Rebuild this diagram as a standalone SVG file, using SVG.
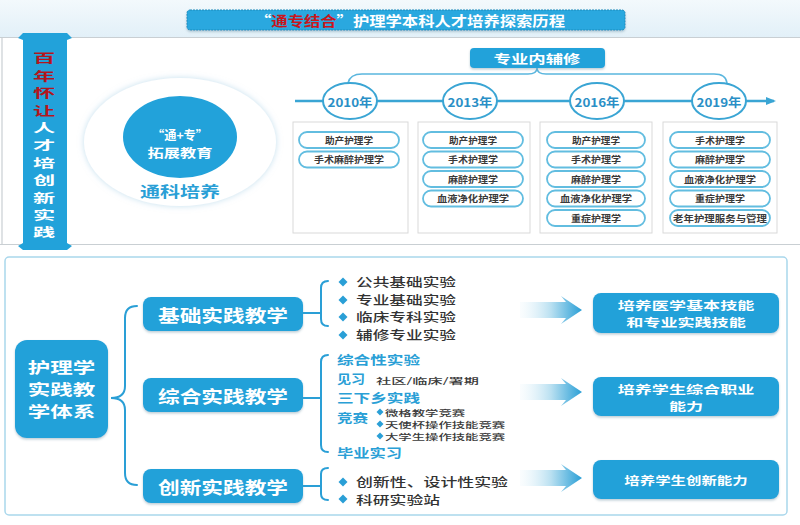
<svg xmlns="http://www.w3.org/2000/svg" width="800" height="525" viewBox="0 0 800 525">
<defs>
<linearGradient id="topband" x1="0" y1="0" x2="0" y2="1">
<stop offset="0" stop-color="#f3f9fc"/>
<stop offset="1" stop-color="#e2f0f8"/>
</linearGradient>
<linearGradient id="arrowgrad" gradientUnits="userSpaceOnUse" x1="520" y1="0" x2="582" y2="0">
<stop offset="0" stop-color="#e8f5fb" stop-opacity="0.2"/>
<stop offset="0.5" stop-color="#b9e0f1"/>
<stop offset="1" stop-color="#2a9fd6"/>
</linearGradient>
<filter id="sh" x="-10%" y="-10%" width="120%" height="140%">
<feDropShadow dx="0" dy="1.5" stdDeviation="1.2" flood-color="#6a8fa3" flood-opacity="0.45"/>
</filter>
<filter id="soft" x="-20%" y="-20%" width="140%" height="140%">
<feDropShadow dx="0" dy="0" stdDeviation="3" flood-color="#9ccbe3" flood-opacity="0.6"/>
</filter>
<marker id="tl" markerWidth="10" markerHeight="8" refX="8" refY="4" orient="auto" markerUnits="userSpaceOnUse">
<path d="M0,0 L10,4 L0,8 Z" fill="#3aa5d4"/>
</marker>
</defs>
<style>
text{font-family:"Noto Sans CJK SC","Noto Sans",sans-serif;dominant-baseline:central}
.w{fill:#ffffff;font-weight:bold}
.pill rect{fill:#ffffff;stroke:#62bde0;stroke-width:1.8}
.pill text{fill:#3a3a3a;font-size:9px;font-weight:bold;text-anchor:middle}
.course{fill:#ffffff;stroke:#d9d9d9;stroke-width:1}
.yr ellipse{fill:#ffffff;stroke:#3aa5d4;stroke-width:2}
.yr text{fill:#2a8fc6;font-size:12px;font-weight:bold;text-anchor:middle}
.br{fill:none;stroke:#2a9fd6;stroke-width:2;stroke-linecap:round}
.it{fill:#333333;font-size:12.4px;font-weight:500}
.sm{fill:#3a3a3a;font-size:8.2px;font-weight:500}
.bt{fill:#2a9fd6;font-size:12.4px;font-weight:bold}
.dm{fill:#2a9fd6}
.node rect{fill:#21a1d9}
.res text{fill:#ffffff;font-size:11.7px;font-weight:bold;text-anchor:middle}
.vt{font-size:12px;font-weight:bold;text-anchor:middle}
</style>

<!-- backgrounds -->
<rect x="0" y="0" width="800" height="525" fill="#ffffff"/>
<rect x="0" y="0" width="800" height="37" fill="url(#topband)"/>
<line x1="0" y1="37.5" x2="800" y2="37.5" stroke="#c9cfd3" stroke-width="1.2"/>
<line x1="2" y1="37" x2="2" y2="245" stroke="#c9cfd3" stroke-width="1.2"/>
<line x1="0" y1="244.5" x2="800" y2="244.5" stroke="#c9cfd3" stroke-width="1.2"/>

<!-- title -->
<g id="title">
<rect x="187" y="10" width="438" height="20" rx="3" fill="#2aa8df" stroke="#1b8cbd" stroke-width="1" stroke-dasharray="2 1" filter="url(#sh)"/>
<text x="410" y="20" font-size="13.5" font-weight="bold" fill="#ffffff" text-anchor="middle" textLength="310" lengthAdjust="spacingAndGlyphs">“<tspan fill="#c8161d">通专结合</tspan>”护理学本科人才培养探索历程</text>
</g>

<!-- vertical bar -->
<g id="vbar">
<path d="M23,33 L67,33 L72,38 L67,40 L67,243 L72,246 L67,250 L23,250 L18,246 L23,243 L23,40 L18,38 Z" fill="#22a2da"/>
<text class="vt" transform="translate(44,0) scale(1.85,1)"><tspan x="0" y="58" fill="#b3151c">百</tspan><tspan x="0" y="75.4" fill="#b3151c">年</tspan><tspan x="0" y="92.8" fill="#b3151c">怀</tspan><tspan x="0" y="110.2" fill="#b3151c">让</tspan><tspan x="0" y="127.6" fill="#ffffff">人</tspan><tspan x="0" y="145" fill="#ffffff">才</tspan><tspan x="0" y="162.4" fill="#ffffff">培</tspan><tspan x="0" y="179.8" fill="#ffffff">创</tspan><tspan x="0" y="197.2" fill="#ffffff">新</tspan><tspan x="0" y="214.6" fill="#ffffff">实</tspan><tspan x="0" y="232" fill="#ffffff">践</tspan></text>
</g>

<!-- circle -->
<g id="tongke">
<ellipse cx="180" cy="142" rx="96" ry="64" fill="#ffffff" filter="url(#soft)"/>
<ellipse cx="180" cy="137" rx="57" ry="41" fill="#22a2da"/>
<text x="180" y="134" font-size="12" class="w" text-anchor="middle" textLength="56" lengthAdjust="spacingAndGlyphs">“通+专”</text>
<text x="180" y="152" font-size="12" class="w" text-anchor="middle" textLength="65" lengthAdjust="spacingAndGlyphs">拓展教育</text>
<text x="180" y="190" font-size="15" font-weight="bold" fill="#2a9fd6" text-anchor="middle" textLength="80" lengthAdjust="spacingAndGlyphs">通科培养</text>
</g>

<!-- connectors -->
<g id="connectors">
<line x1="295" y1="101" x2="774" y2="101" stroke="#3aa5d4" stroke-width="2.5" marker-end="url(#tl)"/>
<path d="M348,83 Q350,74 362,74 L528,74 Q537,74 537,68 Q537,74 546,74 L714,74 Q726,74 727,83" fill="none" stroke="#5ab6de" stroke-width="1.5"/>
<path class="br" d="M137,306 Q125,306 125,318 L125,386 Q125,398 111,398 Q125,398 125,410 L125,473 Q125,485 137,485"/>
<path class="br" d="M303,313 L321,313 M328,281 Q321,281 321,288 L321,319 Q321,326 328,326"/>
<path class="br" d="M303,398 L321,398 M328,355 Q321,355 321,362 L321,445 Q321,452 328,452"/>
<path class="br" d="M303,486 L321,486 M328,468 Q321,468 321,474 L321,494 Q321,500 328,500"/>
<path d="M520,302 L566,302 L561,296 L582,310 L561,324 L566,318 L520,318 Z" fill="url(#arrowgrad)"/>
<path d="M520,384 L566,384 L561,378 L582,392 L561,406 L566,400 L520,400 Z" fill="url(#arrowgrad)"/>
<path d="M520,470 L566,470 L561,464 L582,478 L561,492 L566,486 L520,486 Z" fill="url(#arrowgrad)"/>
</g>

<!-- 专业内辅修 -->
<g id="fuxiu">
<rect x="470" y="48" width="135" height="20" rx="4" fill="#22a2da" filter="url(#sh)"/>
<text x="537" y="58" font-size="12" class="w" text-anchor="middle" textLength="87" lengthAdjust="spacingAndGlyphs">专业内辅修</text>
</g>

<!-- years -->
<g id="y2010" class="yr"><ellipse cx="350" cy="101" rx="27" ry="18"/><text x="350" y="101" textLength="45" lengthAdjust="spacingAndGlyphs">2010年</text></g>
<g id="y2013" class="yr"><ellipse cx="470" cy="101" rx="27" ry="18"/><text x="470" y="101" textLength="45" lengthAdjust="spacingAndGlyphs">2013年</text></g>
<g id="y2016" class="yr"><ellipse cx="597" cy="101" rx="27" ry="18"/><text x="597" y="101" textLength="45" lengthAdjust="spacingAndGlyphs">2016年</text></g>
<g id="y2019" class="yr"><ellipse cx="719" cy="101" rx="27" ry="18"/><text x="719" y="101" textLength="45" lengthAdjust="spacingAndGlyphs">2019年</text></g>

<!-- course boxes -->
<g id="c2010">
<rect class="course" x="293" y="122" width="115" height="111"/>
<g class="pill"><rect x="299" y="132" width="100" height="16" rx="8"/><text x="349" y="140" textLength="48" lengthAdjust="spacingAndGlyphs">助产护理学</text></g>
<g class="pill"><rect x="299" y="151.5" width="100" height="16" rx="8"/><text x="349" y="159.5" textLength="70" lengthAdjust="spacingAndGlyphs">手术麻醉护理学</text></g>
</g>
<g id="c2013">
<rect class="course" x="418" y="122" width="112" height="111"/>
<g class="pill"><rect x="423" y="132" width="100" height="16" rx="8"/><text x="473" y="140" textLength="48" lengthAdjust="spacingAndGlyphs">助产护理学</text></g>
<g class="pill"><rect x="423" y="151.5" width="100" height="16" rx="8"/><text x="473" y="159.5" textLength="50" lengthAdjust="spacingAndGlyphs">手术护理学</text></g>
<g class="pill"><rect x="423" y="171" width="100" height="16" rx="8"/><text x="473" y="179" textLength="50" lengthAdjust="spacingAndGlyphs">麻醉护理学</text></g>
<g class="pill"><rect x="423" y="190.5" width="100" height="16" rx="8"/><text x="473" y="198.5" textLength="72" lengthAdjust="spacingAndGlyphs">血液净化护理学</text></g>
</g>
<g id="c2016">
<rect class="course" x="540" y="122" width="112" height="111"/>
<g class="pill"><rect x="547" y="132" width="98" height="16" rx="8"/><text x="596" y="140" textLength="48" lengthAdjust="spacingAndGlyphs">助产护理学</text></g>
<g class="pill"><rect x="547" y="151.5" width="98" height="16" rx="8"/><text x="596" y="159.5" textLength="50" lengthAdjust="spacingAndGlyphs">手术护理学</text></g>
<g class="pill"><rect x="547" y="171" width="98" height="16" rx="8"/><text x="596" y="179" textLength="50" lengthAdjust="spacingAndGlyphs">麻醉护理学</text></g>
<g class="pill"><rect x="547" y="190.5" width="98" height="16" rx="8"/><text x="596" y="198.5" textLength="72" lengthAdjust="spacingAndGlyphs">血液净化护理学</text></g>
<g class="pill"><rect x="547" y="210" width="98" height="16" rx="8"/><text x="596" y="218" textLength="50" lengthAdjust="spacingAndGlyphs">重症护理学</text></g>
</g>
<g id="c2019">
<rect class="course" x="663" y="122" width="114" height="111"/>
<g class="pill"><rect x="670" y="132" width="100" height="16" rx="8"/><text x="720" y="140" textLength="50" lengthAdjust="spacingAndGlyphs">手术护理学</text></g>
<g class="pill"><rect x="670" y="151.5" width="100" height="16" rx="8"/><text x="720" y="159.5" textLength="50" lengthAdjust="spacingAndGlyphs">麻醉护理学</text></g>
<g class="pill"><rect x="670" y="171" width="100" height="16" rx="8"/><text x="720" y="179" textLength="72" lengthAdjust="spacingAndGlyphs">血液净化护理学</text></g>
<g class="pill"><rect x="670" y="190.5" width="100" height="16" rx="8"/><text x="720" y="198.5" textLength="50" lengthAdjust="spacingAndGlyphs">重症护理学</text></g>
<g class="pill"><rect x="670" y="210" width="100" height="16" rx="8"/><text x="720" y="218" textLength="94" lengthAdjust="spacingAndGlyphs">老年护理服务与管理</text></g>
</g>

<!-- bottom frame -->
<rect x="5" y="257" width="782" height="258" rx="4" fill="none" stroke="#a9d7ec" stroke-width="1.5"/>

<!-- main node -->
<g id="main" class="node">
<rect x="15" y="340" width="93" height="98" rx="12" filter="url(#sh)"/>
<text font-size="15" class="w" text-anchor="middle" transform="translate(61.5,0) scale(1.5,1)"><tspan x="0" y="367">护理学</tspan><tspan x="0" y="389">实践教</tspan><tspan x="0" y="411">学体系</tspan></text>
</g>

<g id="jichu" class="node">
<rect x="143" y="297" width="160" height="34" rx="8" filter="url(#sh)"/>
<text x="223" y="314" font-size="17" class="w" text-anchor="middle" textLength="130" lengthAdjust="spacingAndGlyphs">基础实践教学</text>
</g>
<g id="zonghe" class="node">
<rect x="143" y="378" width="160" height="34" rx="8" filter="url(#sh)"/>
<text x="223" y="395" font-size="17" class="w" text-anchor="middle" textLength="130" lengthAdjust="spacingAndGlyphs">综合实践教学</text>
</g>
<g id="chuangxin" class="node">
<rect x="143" y="469" width="160" height="34" rx="8" filter="url(#sh)"/>
<text x="223" y="486" font-size="17" class="w" text-anchor="middle" textLength="130" lengthAdjust="spacingAndGlyphs">创新实践教学</text>
</g>

<!-- list 1 -->
<g id="list1">
<path class="dm" d="M343,277.5 L347.5,282 L343,286.5 L338.5,282 Z"/>
<text class="it" x="356" y="282" textLength="100" lengthAdjust="spacingAndGlyphs">公共基础实验</text>
<path class="dm" d="M343,295.5 L347.5,300 L343,304.5 L338.5,300 Z"/>
<text class="it" x="356" y="300" textLength="100" lengthAdjust="spacingAndGlyphs">专业基础实验</text>
<path class="dm" d="M343,312.5 L347.5,317 L343,321.5 L338.5,317 Z"/>
<text class="it" x="356" y="317" textLength="100" lengthAdjust="spacingAndGlyphs">临床专科实验</text>
<path class="dm" d="M343,330.5 L347.5,335 L343,339.5 L338.5,335 Z"/>
<text class="it" x="356" y="335" textLength="100" lengthAdjust="spacingAndGlyphs">辅修专业实验</text>
</g>

<!-- list 2 -->
<g id="list2">
<text class="bt" x="337" y="360" textLength="83" lengthAdjust="spacingAndGlyphs">综合性实验</text>
<text class="bt" x="337" y="378.5" textLength="28" lengthAdjust="spacingAndGlyphs">见习</text>
<text class="sm" x="376" y="380" font-size="11" textLength="103" lengthAdjust="spacingAndGlyphs">社区/临床/署期</text>
<text class="bt" x="337" y="397.5" textLength="83" lengthAdjust="spacingAndGlyphs">三下乡实践</text>
<text class="bt" x="337" y="418" textLength="31" lengthAdjust="spacingAndGlyphs">竞赛</text>
<path class="dm" d="M380,408.5 L383.5,412 L380,415.5 L376.5,412 Z"/>
<path class="dm" d="M380,420.5 L383.5,424 L380,427.5 L376.5,424 Z"/>
<path class="dm" d="M380,432.5 L383.5,436 L380,439.5 L376.5,436 Z"/>
<text class="sm" transform="translate(385,0) scale(1.63,1)"><tspan x="0" y="412">微格教学竞赛</tspan><tspan x="0" y="424">天使杯操作技能竞赛</tspan><tspan x="0" y="436">大学生操作技能竞赛</tspan></text>
<text class="bt" x="337" y="453" textLength="65" lengthAdjust="spacingAndGlyphs">毕业实习</text>
</g>

<!-- list 3 -->
<g id="list3">
<path class="dm" d="M343,477.5 L347.5,482 L343,486.5 L338.5,482 Z"/>
<text class="it" x="356" y="482" textLength="152" lengthAdjust="spacingAndGlyphs">创新性、设计性实验</text>
<path class="dm" d="M343,494.5 L347.5,499 L343,503.5 L338.5,499 Z"/>
<text class="it" x="356" y="499.5" textLength="84" lengthAdjust="spacingAndGlyphs">科研实验站</text>
</g>

<!-- results -->
<g id="res1" class="res node">
<rect x="593" y="293" width="186" height="40" rx="8" filter="url(#sh)"/>
<text transform="translate(686,0) scale(1.46,1)"><tspan x="0" y="304.5">培养医学基本技能</tspan><tspan x="0" y="321.5">和专业实践技能</tspan></text>
</g>
<g id="res2" class="res node">
<rect x="593" y="377" width="186" height="39" rx="8" filter="url(#sh)"/>
<text transform="translate(686,0) scale(1.46,1)"><tspan x="0" y="388.5">培养学生综合职业</tspan><tspan x="0" y="405.5">能力</tspan></text>
</g>
<g id="res3" class="res node">
<rect x="593" y="460" width="186" height="39" rx="8" filter="url(#sh)"/>
<text transform="translate(686,0) scale(1.32,1)" font-size="13" x="0" y="480">培养学生创新能力</text>
</g>
</svg>
